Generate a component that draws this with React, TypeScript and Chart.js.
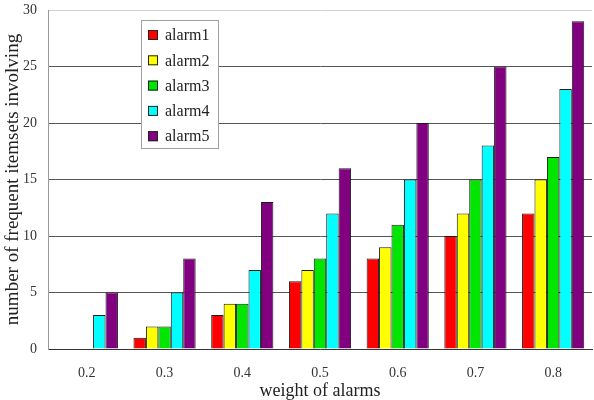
import React, { useEffect, useRef } from "react";
import { Chart, registerables } from "chart.js";

Chart.register(...registerables);

const categories = ["0.2", "0.3", "0.4", "0.5", "0.6", "0.7", "0.8"];
const seriesNames = ["alarm1", "alarm2", "alarm3", "alarm4", "alarm5"];
const alarm1 = [0, 1, 3, 6, 8, 10, 12];
const alarm2 = [0, 2, 4, 7, 9, 12, 15];
const alarm3 = [0, 2, 4, 8, 11, 15, 17];
const alarm4 = [3, 5, 7, 12, 15, 18, 23];
const alarm5 = [5, 8, 13, 16, 20, 25, 29];
const seriesValues = [alarm1, alarm2, alarm3, alarm4, alarm5];
const seriesColors = ["#ff0000", "#ffff00", "#00e600", "#00ffff", "#800080"];
const yTitle = "number of frequent itemsets involving";
const xTitle = "weight of alarms";

const FONT = "'Liberation Serif', 'Times New Roman', serif";

const legendPlugin = {
  id: "insideLegend",
  afterDraw(chart: any) {
    const { ctx, chartArea } = chart;
    const x0 = chartArea.left + 93;
    const y0 = chartArea.top + 10;
    const w = 77;
    const h = 128;
    ctx.save();
    ctx.fillStyle = "#ffffff";
    ctx.fillRect(x0, y0, w, h);
    ctx.strokeStyle = "#a0a0a0";
    ctx.lineWidth = 1;
    ctx.strokeRect(x0 + 0.5, y0 + 0.5, w, h);
    ctx.font = "16px " + FONT;
    ctx.textBaseline = "middle";
    ctx.textAlign = "left";
    chart.data.datasets.forEach((ds: any, i: number) => {
      const cy = y0 + 15 + i * 25.3;
      ctx.fillStyle = ds.backgroundColor;
      ctx.fillRect(x0 + 7, cy - 5, 10, 10);
      ctx.strokeStyle = "#222";
      ctx.strokeRect(x0 + 7.5, cy - 4.5, 9, 9);
      ctx.fillStyle = "#222";
      ctx.fillText(ds.label, x0 + 24, cy + 1);
    });
    ctx.restore();
  },
};

export default function App() {
  const ref = useRef<HTMLCanvasElement | null>(null);
  useEffect(() => {
    document.body.style.margin = "0";
    const chart = new Chart(ref.current!, {
      type: "bar",
      data: {
        labels: categories,
        datasets: seriesNames.map((name, i) => ({
          label: name,
          data: seriesValues[i],
          backgroundColor: seriesColors[i],
          borderColor: "#1a1a1a",
          borderWidth: (c: any) => (c.raw === 0 ? 0 : 1),
          borderSkipped: "bottom",
          categoryPercentage: 0.8,
          barPercentage: 1.0,
        })),
      },
      options: {
        responsive: false,
        animation: false,
        layout: { padding: { top: 10, right: 2, left: 4, bottom: 0 } },
        plugins: {
          legend: { display: false },
          tooltip: { enabled: false },
        },
        scales: {
          x: {
            grid: {
              display: true,
              drawOnChartArea: false,
              drawTicks: true,
              tickLength: 15,
              color: "rgba(0,0,0,0)",
              tickColor: "rgba(0,0,0,0)",
            },
            border: { display: true, color: "#333", width: 1 },
            ticks: {
              padding: 0.6,
              color: "#333",
              font: { family: FONT, size: 14, lineHeight: 1.2 },
            },
            title: {
              display: true,
              text: xTitle,
              color: "#222",
              padding: { top: 0, bottom: 0 },
              font: { family: FONT, size: 18, lineHeight: 1.0 },
            },
          },
          y: {
            min: 0,
            max: 30,
            ticks: {
              stepSize: 5,
              padding: 0,
              color: "#333",
              font: { family: FONT, size: 14, lineHeight: 1.2 },
            },
            grid: {
              drawTicks: true,
              tickLength: 11,
              tickColor: "rgba(0,0,0,0)",
              color: (c: any) =>
                c.tick && c.tick.value === 30 ? "#d0d0d0" : c.tick && c.tick.value === 0 ? "rgba(0,0,0,0)" : "#555",
              lineWidth: 1,
            },
            border: { display: true, color: "#999", width: 1 },
            title: {
              display: true,
              text: yTitle,
              color: "#222",
              padding: { top: 0, bottom: 0 },
              font: { family: FONT, size: 19, lineHeight: 1.0 },
            },
          },
        },
      },
      plugins: [legendPlugin],
    } as any);
    return () => chart.destroy();
  }, []);
  return (
    <div style={{ position: "absolute", left: 0, top: 0, width: 594, height: 400, background: "#fff" }}>
      <canvas ref={ref} width={594} height={400} />
    </div>
  );
}
